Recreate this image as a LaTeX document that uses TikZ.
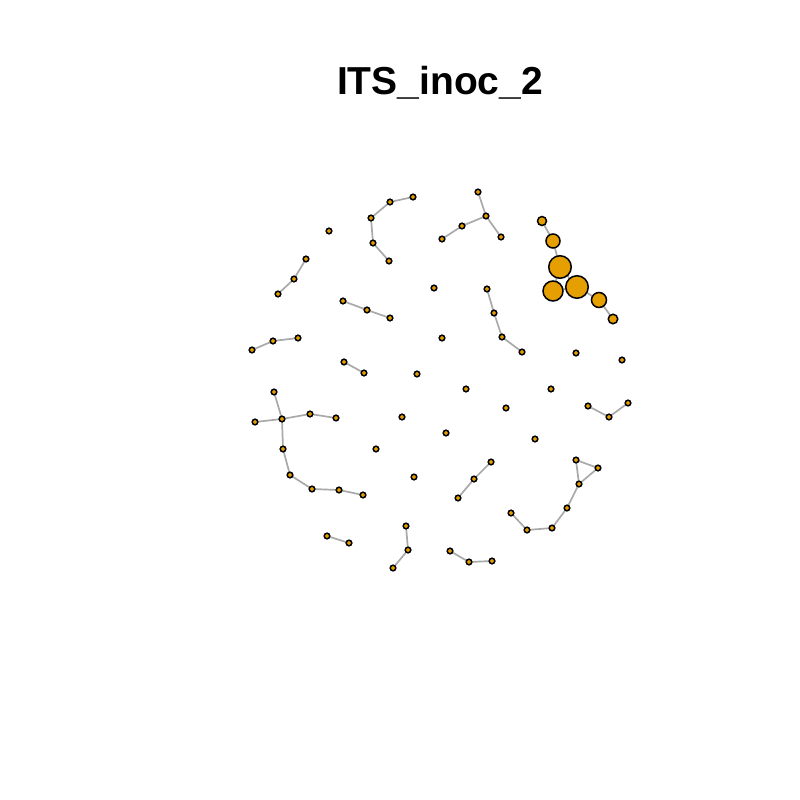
\documentclass[tikz,border=0pt]{standalone}
\usepackage{fontspec}
\setmainfont{Liberation Sans}
\definecolor{vfill}{HTML}{E69F00}
\definecolor{edgec}{HTML}{A9A9A9}
\tikzset{
  v/.style={circle,draw=black,fill=vfill,line width=1.5pt,inner sep=0pt,minimum size=5.6pt},
  e/.style={draw=edgec,line width=1.7pt}
}
\begin{document}
\begin{tikzpicture}[x=1pt,y=-1pt]
\useasboundingbox (0,0) rectangle (800,800);
\node[font=\bfseries\fontsize{39}{47}\selectfont] (title) at (440,83) {ITS\_inoc\_2};
\begin{scope}
\coordinate (a1) at (413,197); \coordinate (a2) at (390,202); \coordinate (a3) at (371,218); \coordinate (a4) at (373,243); \coordinate (a5) at (389,261);
\coordinate (b1) at (306,259); \coordinate (b2) at (294,279); \coordinate (b3) at (278,294);
\coordinate (c1) at (343,301); \coordinate (c2) at (367,310); \coordinate (c3) at (390,318);
\coordinate (d1) at (252,350); \coordinate (d2) at (273,341); \coordinate (d3) at (298,338);
\coordinate (f1) at (344,362); \coordinate (f2) at (364,373);
\coordinate (g1) at (478,192); \coordinate (g2) at (486,216); \coordinate (g3) at (462,226); \coordinate (g4) at (442,239); \coordinate (g5) at (501,237);
\coordinate (h1) at (487,289); \coordinate (h2) at (494,313); \coordinate (h3) at (502,337); \coordinate (h4) at (522,352);
\coordinate (k1) at (542,221); \coordinate (k2) at (553,241); \coordinate (k3) at (560,267); \coordinate (k4) at (553,291); \coordinate (k5) at (577,287); \coordinate (k6) at (599,300); \coordinate (k7) at (613,319);
\coordinate (m1) at (274,392); \coordinate (m2) at (282,419); \coordinate (m3) at (255,422); \coordinate (m4) at (310,414); \coordinate (m5) at (336,418); \coordinate (m6) at (283,449); \coordinate (m7) at (290,475); \coordinate (m8) at (312,489); \coordinate (m9) at (339,490); \coordinate (m10) at (363,495);
\coordinate (n1) at (406,526); \coordinate (n2) at (408,550); \coordinate (n3) at (393,568);
\coordinate (p1) at (327,536); \coordinate (p2) at (349,543);
\coordinate (q1) at (491,462); \coordinate (q2) at (474,479); \coordinate (q3) at (458,498);
\coordinate (r1) at (450,551); \coordinate (r2) at (469,562); \coordinate (r3) at (492,561);
\coordinate (s1) at (576,460); \coordinate (s2) at (598,468); \coordinate (s3) at (579,484); \coordinate (s4) at (567,508); \coordinate (s5) at (552,528); \coordinate (s6) at (527,530); \coordinate (s7) at (511,513);
\coordinate (t1) at (588,406); \coordinate (t2) at (609,417); \coordinate (t3) at (628,403);
\end{scope}
% edges
\draw[e] (a1)--(a2)--(a3)--(a4)--(a5);
\draw[e] (b1)--(b2)--(b3);
\draw[e] (c1)--(c2)--(c3);
\draw[e] (d1)--(d2)--(d3);
\draw[e] (f1)--(f2);
\draw[e] (g1)--(g2)--(g3)--(g4); \draw[e] (g2)--(g5);
\draw[e] (h1)--(h2)--(h3)--(h4);
\draw[e] (k1)--(k2)--(k3)--(k5)--(k6)--(k7); \draw[e] (k3)--(k4)--(k5);
\draw[e] (m1)--(m2)--(m3); \draw[e] (m2)--(m4)--(m5); \draw[e] (m2)--(m6)--(m7)--(m8)--(m9)--(m10);
\draw[e] (n1)--(n2)--(n3);
\draw[e] (p1)--(p2);
\draw[e] (q1)--(q2)--(q3);
\draw[e] (r1)--(r2)--(r3);
\draw[e] (s1)--(s2)--(s3)--cycle; \draw[e] (s3)--(s4)--(s5)--(s6)--(s7);
\draw[e] (t1)--(t2)--(t3);
% vertices
\foreach \c in {a1,a2,a3,a4,a5,b1,b2,b3,c1,c2,c3,d1,d2,d3,f1,f2,g1,g2,g3,g4,g5,h1,h2,h3,h4,m1,m2,m3,m4,m5,m6,m7,m8,m9,m10,n1,n2,n3,p1,p2,q1,q2,q3,r1,r2,r3,s1,s2,s3,s4,s5,s6,s7,t1,t2,t3}
  \node[v] (v\c) at (\c) {};
% isolated vertices
\node[v] (i1) at (329,231) {};
\node[v] (i2) at (434,288) {};
\node[v] (i3) at (442,338) {};
\node[v] (i4) at (576,353) {};
\node[v] (i5) at (622,360) {};
\node[v] (i6) at (417,374) {};
\node[v] (i7) at (466,389) {};
\node[v] (i8) at (551,389) {};
\node[v] (i9) at (506,408) {};
\node[v] (i10) at (402,417) {};
\node[v] (i11) at (446,433) {};
\node[v] (i12) at (535,439) {};
\node[v] (i13) at (376,449) {};
\node[v] (i14) at (414,477) {};
% big vertices
\node[v,minimum size=9pt] (vk1) at (k1) {};
\node[v,minimum size=14pt] (vk2) at (k2) {};
\node[v,minimum size=22.5pt] (vk3) at (k3) {};
\node[v,minimum size=20pt] (vk4) at (k4) {};
\node[v,minimum size=22.5pt] (vk5) at (k5) {};
\node[v,minimum size=15pt] (vk6) at (k6) {};
\node[v,minimum size=9.5pt] (vk7) at (k7) {};
\end{tikzpicture}
\end{document}
